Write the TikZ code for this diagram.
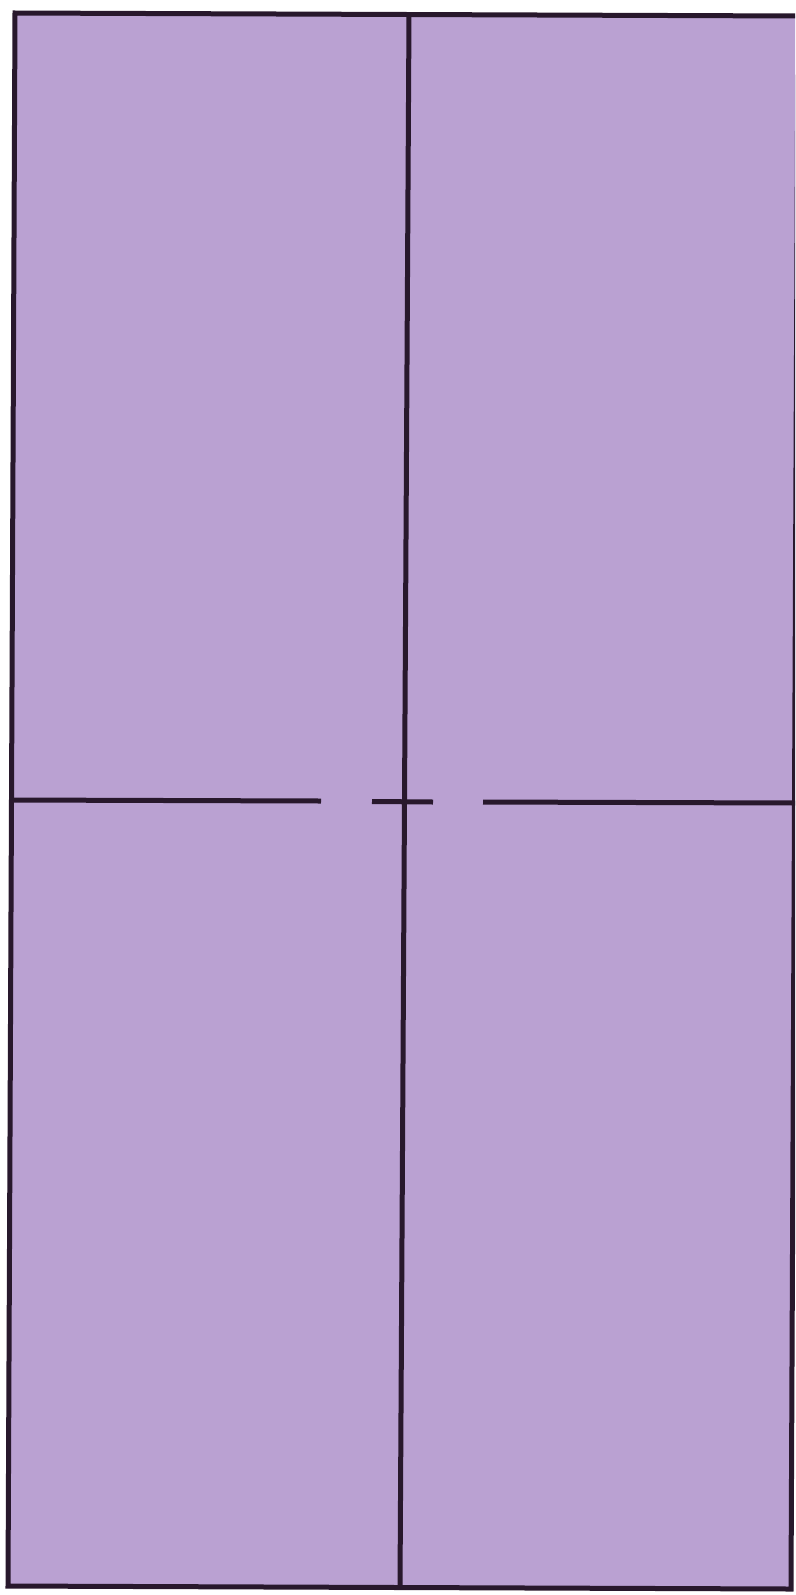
\documentclass[tikz,border=0pt]{standalone}
\definecolor{paper}{RGB}{186,161,210}
\definecolor{ink}{RGB}{40,24,44}
\tikzset{
  edge/.style={draw=ink, line width=5pt, line join=miter},
  crease/.style={draw=ink, line width=5pt}
}
\begin{document}
\begin{tikzpicture}[x=1pt,y=-1pt]
\useasboundingbox (0,0) rectangle (795,1595);
\clip (0,0) rectangle (795,1595);
\fill[white] (0,0) rectangle (795,1595);
% sheet corners
\coordinate (tl) at (15,13);
\coordinate (tr) at (798,16);
\coordinate (br) at (791,1589);
\coordinate (bl) at (8,1586);
\filldraw[edge, fill=paper] (tl) -- (tr) -- (br) -- (bl) -- cycle;
% vertical crease
\coordinate (vt) at (409,14);
\coordinate (vb) at (400,1587);
\draw[crease] (vt) -- (vb);
% horizontal dashed crease
\coordinate (h1) at (12,800);
\coordinate (h2) at (321,801);
\coordinate (h3) at (372,801.5);
\coordinate (h4) at (433,802);
\coordinate (h5) at (483,802);
\coordinate (h6) at (795,803);
\draw[crease] (h1) -- (h2);
\draw[crease] (h3) -- (h4);
\draw[crease] (h5) -- (h6);
\end{tikzpicture}
\end{document}
